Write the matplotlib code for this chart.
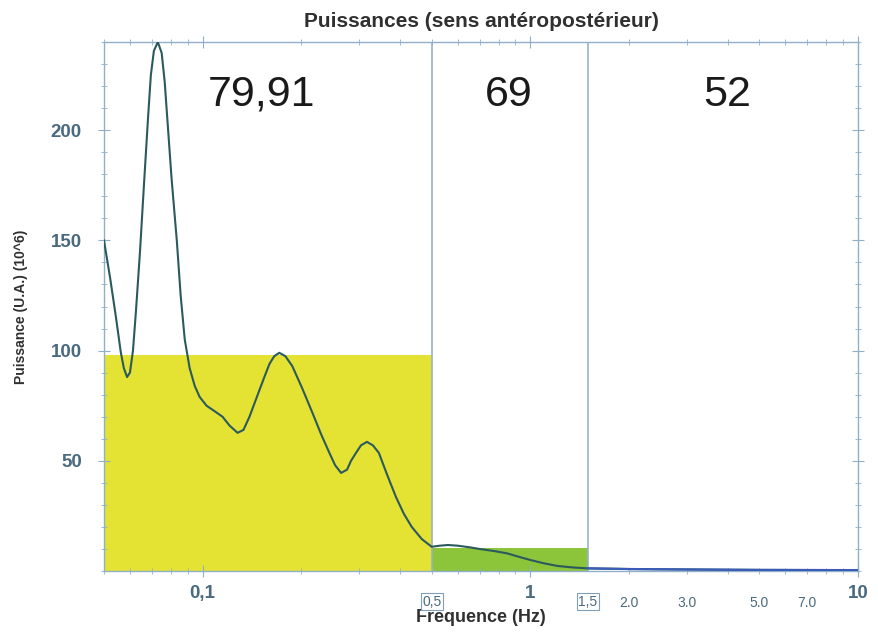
import numpy as np
import matplotlib
matplotlib.use("Agg")
import matplotlib.pyplot as plt
from matplotlib.ticker import FixedLocator, MultipleLocator, NullFormatter

plt.rcParams['font.family'] = ['Liberation Sans', 'DejaVu Sans']

# Spectrum (frequency in Hz, power in U.A. 10^6)
freq = [0.050, 0.0522, 0.0544, 0.0563, 0.0575, 0.0588, 0.0600, 0.0613, 0.0626,
        0.0644, 0.0662, 0.0681, 0.0695, 0.0710, 0.0730, 0.0750, 0.0766, 0.0783,
        0.0804, 0.0834, 0.0857, 0.0882, 0.0913, 0.0946, 0.0979, 0.1028, 0.1088,
        0.115, 0.1208, 0.1278, 0.1332, 0.139, 0.1439, 0.149, 0.1543, 0.160,
        0.1655, 0.1714, 0.1788, 0.1877, 0.2012, 0.216, 0.230, 0.243, 0.2537,
        0.2646, 0.2759, 0.2837, 0.2938, 0.3042, 0.3173, 0.3309, 0.345, 0.3649,
        0.389, 0.4111, 0.4347, 0.4664, 0.50,
        0.53, 0.56, 0.60, 0.65, 0.70, 0.78, 0.85, 0.92, 1.0, 1.1, 1.21, 1.35,
        1.50, 2.0, 3.0, 5.0, 10.0]
power = [150, 133, 115, 99, 92, 88, 90, 100, 118,
         145, 175, 205, 225, 236, 240, 235, 222, 202,
         178, 150, 125, 105, 92, 84, 79, 75, 72.5,
         70, 66, 62.7, 64, 70, 76, 82, 88, 94,
         97.5, 99, 97.5, 93, 83, 72, 62, 54, 48,
         44.5, 46, 50, 53.6, 57, 58.6, 57, 53.6, 44,
         33.6, 26, 20, 14.5, 11,
         11.5, 11.8, 11.5, 10.8, 10, 9, 8, 6.5, 5, 3.5, 2.3, 1.6,
         1.2, 0.9, 0.7, 0.5, 0.4]

# Band limits and mean band levels
band_edges = [0.05, 0.5, 1.5, 10.0]
band_levels = [98, 10.5, 0]
band_colors = ["#e4e233", "#8cc43a", "none"]
band_labels = ["79,91", "69", "52"]
band_label_x = [0.151, 0.857, 4.0]

extra_ticks = [2.0, 3.0, 5.0, 7.0]
boxed_ticks = [0.5, 1.5]

fig = plt.figure(figsize=(8.79, 6.32), dpi=100)
ax = fig.add_axes([0.1183, 0.0965, 0.8578, 0.837])
ax.set_xscale("log")
ax.set_xlim(0.05, 10)
ax.set_ylim(0, 240)

for i in range(3):
    if band_colors[i] != "none":
        ax.fill_between([band_edges[i], band_edges[i + 1]], 0, band_levels[i],
                        color=band_colors[i], zorder=1, linewidth=0)
    ax.text(band_label_x[i], 216, band_labels[i], fontsize=31, ha="center",
            va="center", color="#1a1a1a")

for b in boxed_ticks:
    ax.axvline(b, color="#9ab3c8", lw=1.2, zorder=2)

line_col = "#2b5a5e"
ax.plot(freq, power, color=line_col, lw=1.5, zorder=3)
f = np.array(freq)
p = np.array(power)
ax.plot(f[f >= 1.5], p[f >= 1.5], color="#3a5cb8", lw=1.6, zorder=4)

spine_col = "#8fb0c8"
for s in ax.spines.values():
    s.set_color(spine_col)
    s.set_linewidth(1.0)

tick_col = "#4a6a80"
ax.yaxis.set_major_locator(FixedLocator([50, 100, 150, 200]))
ax.yaxis.set_minor_locator(MultipleLocator(10))
ax.set_xticks([0.1, 1, 10])
ax.set_xticklabels(["0,1", "1", "10"])
ax.xaxis.set_minor_formatter(NullFormatter())
ax.tick_params(axis="both", which="both", direction="inout", colors=spine_col,
               labelcolor=tick_col, top=True, right=True)
ax.tick_params(axis="both", which="major", length=8, labelsize=13.5)
ax.tick_params(axis="both", which="minor", length=5)
ax.tick_params(axis="y", which="major", pad=12)
ax.tick_params(axis="x", which="major", pad=6)
for lab in ax.get_xticklabels() + ax.get_yticklabels():
    lab.set_fontweight("bold")

for b in boxed_ticks:
    ax.text(b, -14, f"{b:.1f}".replace(".", ","), ha="center", va="center",
            fontsize=10, color=tick_col, clip_on=False,
            bbox=dict(boxstyle="square,pad=0.1", fc="white", ec="#7fa0b8", lw=0.8))
for t in extra_ticks:
    ax.text(t, -14.5, f"{t:.1f}", ha="center", va="center", fontsize=10,
            color=tick_col, clip_on=False)

ax.set_xlabel("Frequence (Hz)", fontsize=13, fontweight="bold", color="#303030",
              labelpad=5)
ax.set_ylabel("Puissance (U.A.) (10^6)", fontsize=10, fontweight="bold",
              color="#303030", labelpad=16)
ax.set_title("Puissances (sens antéropostérieur)", fontsize=15, fontweight="bold",
             color="#303030", pad=11)

fig.savefig("out.png", dpi=100)
